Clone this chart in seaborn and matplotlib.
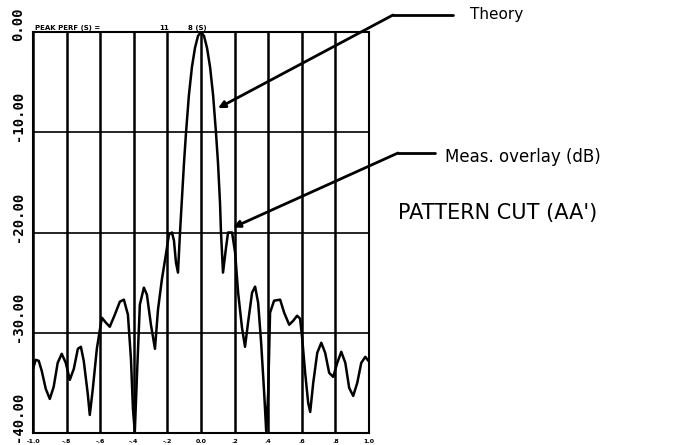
import matplotlib
matplotlib.use("Agg")
import matplotlib.pyplot as plt
import matplotlib.transforms as mtransforms
from matplotlib.lines import Line2D
import seaborn as sns
import pandas as pd

# Pattern cut values (sine-space, dB)
angle = [-1.000, -0.984, -0.966, -0.948, -0.924, -0.900, -0.877, -0.853, -0.829, -0.805,
         -0.781, -0.757, -0.733, -0.715, -0.698, -0.674, -0.662, -0.644, -0.620, -0.602,
         -0.590, -0.566, -0.543, -0.513, -0.483, -0.459, -0.435, -0.417, -0.405, -0.394,
         -0.382, -0.364, -0.340, -0.322, -0.298, -0.274, -0.256, -0.233, -0.209, -0.191,
         -0.173, -0.161, -0.149, -0.137, -0.125, -0.113, -0.101, -0.089, -0.072, -0.054,
         -0.036, -0.018, 0.000, 0.018, 0.036, 0.054, 0.072, 0.089, 0.101, 0.113,
         0.119, 0.131, 0.149, 0.161, 0.185, 0.203, 0.221, 0.244, 0.262, 0.280,
         0.304, 0.322, 0.340, 0.358, 0.376, 0.388, 0.400, 0.411, 0.435, 0.471,
         0.495, 0.525, 0.549, 0.572, 0.590, 0.602, 0.620, 0.638, 0.650, 0.668,
         0.692, 0.716, 0.739, 0.763, 0.787, 0.811, 0.835, 0.859, 0.882, 0.906,
         0.930, 0.954, 0.978, 0.996]
level_db = [-33.6, -32.7, -32.8, -33.8, -35.6, -36.6, -35.4, -33.0, -32.1, -33.0,
            -34.7, -33.6, -31.6, -31.4, -32.8, -36.1, -38.2, -35.6, -31.6, -29.7,
            -28.5, -29.0, -29.4, -28.2, -26.9, -26.7, -28.2, -32.6, -37.6, -39.9,
            -34.6, -27.2, -25.5, -26.2, -29.2, -31.6, -27.7, -24.7, -22.2, -20.2,
            -20.0, -20.8, -23.0, -24.0, -20.0, -16.5, -13.0, -10.0, -6.3, -3.5,
            -1.6, -0.4, 0.0, -0.4, -1.6, -3.5, -6.3, -10.0, -13.0, -17.0,
            -20.0, -24.0, -21.5, -20.0, -20.0, -22.0, -26.0, -29.5, -31.4, -29.0,
            -26.0, -25.4, -27.0, -31.0, -36.0, -39.8, -36.0, -28.0, -26.8, -26.7,
            -28.0, -29.2, -28.8, -28.3, -28.6, -30.5, -34.0, -37.0, -37.9, -35.0,
            -32.0, -31.0, -32.0, -34.0, -34.4, -33.0, -31.9, -33.0, -35.5, -36.3,
            -35.0, -33.0, -32.4, -32.8]

x_ticks = [-1.0, -0.8, -0.6, -0.4, -0.2, 0.0, 0.2, 0.4, 0.6, 0.8, 1.0]
x_labels = ["-1.0", "-.8", "-.6", "-.4", "-.2", "0.0", ".2", ".4", ".6", ".8", "1.0"]
y_ticks = [0, -10, -20, -30, -40]
y_labels = ["0.00", "-10.00", "-20.00", "-30.00", "-40.00"]

df = pd.DataFrame({"angle": angle, "level": level_db})

sns.set_style("white")
plt.rcParams["font.family"] = ["DejaVu Sans"]
plt.rcParams["text.color"] = "black"
plt.rcParams["xtick.color"] = "black"

fig = plt.figure(figsize=(6.78, 4.45), dpi=100)
ax = fig.add_axes([33 / 678, 12 / 445, 336 / 678, 401 / 445])

sns.lineplot(data=df, x="angle", y="level", color="black", linewidth=1.8, ax=ax)

ax.set_xlim(-1.0, 1.0)
ax.set_ylim(-40, 0)
ax.set_xticks(x_ticks)
ax.set_xticklabels(x_labels, fontsize=4.5, fontweight="bold")
ax.set_yticks(y_ticks)
ax.set_yticklabels([])
ax.tick_params(axis="x", length=3, width=1, pad=1, direction="out")
ax.tick_params(axis="y", length=0)
ax.set_xlabel("")
ax.set_ylabel("")
ax.xaxis.grid(True, color="black", linewidth=1.8)
ax.yaxis.grid(True, color="black", linewidth=1.2)
for s in ax.spines.values():
    s.set_color("black")
    s.set_linewidth(1.5)

# rotated y labels, shifted up from the grid lines as on the scan
ytrans = mtransforms.offset_copy(ax.get_yaxis_transform(), fig, x=-15, y=-9, units="dots")
for v, lab in zip(y_ticks, y_labels):
    ax.text(0, v, lab, transform=ytrans, rotation=90, ha="center", va="bottom",
            fontsize=10, fontweight="bold", family="DejaVu Sans Mono")

# header line printed by the recorder
hdr = dict(fontsize=5, fontweight="bold", va="bottom")
ax.text(0.005, 1.002, "PEAK PERF (S) =", transform=ax.transAxes, ha="left", **hdr)
ax.text(0.375, 1.002, "11", transform=ax.transAxes, ha="left", **hdr)
ax.text(0.46, 1.002, "8 (S)", transform=ax.transAxes, ha="left", **hdr)


def fpx(x, y):
    return (x / 678, 1 - y / 445)


# hand-drawn callouts
ax.annotate("", xy=(0.101, -7.6), xycoords="data", xytext=fpx(393, 15), textcoords="figure fraction",
            arrowprops=dict(arrowstyle="-|>", color="black", lw=2, mutation_scale=10, shrinkA=0, shrinkB=0),
            annotation_clip=False)
ax.annotate("", xy=(0.191, -19.5), xycoords="data", xytext=fpx(398, 153), textcoords="figure fraction",
            arrowprops=dict(arrowstyle="-|>", color="black", lw=2, mutation_scale=10, shrinkA=0, shrinkB=0),
            annotation_clip=False)
for (x0, y0), (x1, y1) in [((393, 15), (453, 15)), ((398, 153), (435, 153))]:
    a, b = fpx(x0, y0), fpx(x1, y1)
    fig.add_artist(Line2D([a[0], b[0]], [a[1], b[1]], transform=fig.transFigure, color="black", lw=2))

fig.text(*fpx(470, 15), "Theory", fontsize=11, ha="left", va="center")
fig.text(*fpx(445, 157), "Meas. overlay (dB)", fontsize=12, ha="left", va="center")
fig.text(*fpx(398, 213), "PATTERN CUT (AA')", fontsize=15, ha="left", va="center")

fig.savefig("out.png", dpi=100, facecolor="white")
